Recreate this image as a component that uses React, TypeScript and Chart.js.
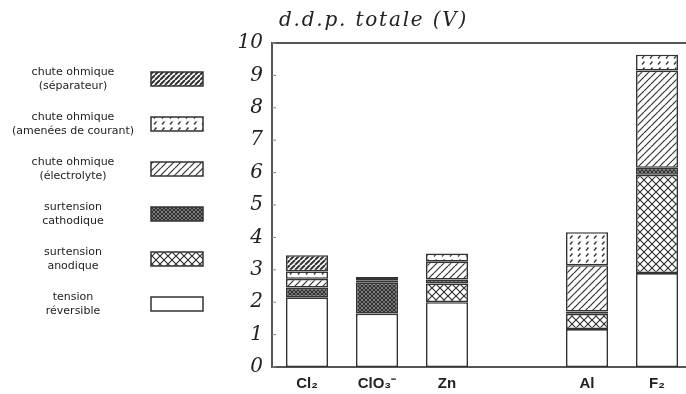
import React, { useEffect, useRef } from "react";
import { Chart, registerables } from "chart.js";
Chart.register(...registerables);

const categories = ["Cl₂", "ClO₃⁻", "Zn", "Al", "F₂"];
const positions = [0, 1, 2, 4, 5];
const reversible = [2.15, 1.65, 2.0, 1.17, 2.9];
const anodique = [null, null, 0.58, 0.47, 3.03];
const cathodique = [0.3, 0.95, 0.12, 0.07, 0.22];
const electrolyte = [0.27, null, 0.55, 1.43, 3.0];
const amenees = [0.23, 0.08, 0.25, 1.02, 0.49];
const separateur = [0.5, 0.1, null, null, null];
const yTicks = [0, 1, 2, 3, 4, 5, 6, 7, 8, 9, 10];
const titleText = "d.d.p. totale (V)";
const legendLines = [
  ["chute ohmique", "(séparateur)"],
  ["chute ohmique", "(amenées de courant)"],
  ["chute ohmique", "(électrolyte)"],
  ["surtension", "cathodique"],
  ["surtension", "anodique"],
  ["tension", "réversible"],
];

const INK = "#333333";

function makePattern(w: number, h: number, draw: (c: CanvasRenderingContext2D) => void) {
  const cv = document.createElement("canvas");
  cv.width = w;
  cv.height = h;
  const c = cv.getContext("2d")!;
  c.fillStyle = "#ffffff";
  c.fillRect(0, 0, w, h);
  c.strokeStyle = INK;
  draw(c);
  return c.createPattern(cv, "repeat")!;
}

function diag(c: CanvasRenderingContext2D, s: number, lw: number, back = false) {
  c.lineWidth = lw;
  c.beginPath();
  for (const k of [-s, 0, s]) {
    if (!back) {
      c.moveTo(k, s);
      c.lineTo(k + s, 0);
    } else {
      c.moveTo(k, 0);
      c.lineTo(k + s, s);
    }
  }
  c.stroke();
}

export default function App() {
  const ref = useRef<HTMLCanvasElement | null>(null);
  useEffect(() => {
    const canvas = ref.current!;
    const pSep = makePattern(5, 5, (c) => diag(c, 5, 2.0));
    const pAmen = makePattern(8, 6, (c) => {
      c.lineWidth = 1.3;
      c.beginPath();
      c.moveTo(2, 4.5);
      c.lineTo(4.5, 1.5);
      c.stroke();
    });
    const pElec = makePattern(7, 7, (c) => diag(c, 7, 1.2));
    const pCath = makePattern(4, 4, (c) => {
      diag(c, 4, 1.6);
      diag(c, 4, 1.6, true);
    });
    const pAnod = makePattern(8, 8, (c) => {
      diag(c, 8, 1.2);
      diag(c, 8, 1.2, true);
    });
    const series = [
      { data: reversible, fill: "#ffffff" as any },
      { data: anodique, fill: pAnod },
      { data: cathodique, fill: pCath },
      { data: electrolyte, fill: pElec },
      { data: amenees, fill: pAmen },
      { data: separateur, fill: pSep },
    ];
    const legendFills = [pSep, pAmen, pElec, pCath, pAnod, "#ffffff"];

    const decor = {
      id: "decor",
      afterDraw(chart: any) {
        const ctx = chart.ctx as CanvasRenderingContext2D;
        const area = chart.chartArea;
        const yScale = chart.scales.y;
        ctx.save();
        ctx.strokeStyle = "#555";
        ctx.lineWidth = 2;
        ctx.beginPath();
        ctx.moveTo(area.left - 1, area.top);
        ctx.lineTo(chart.width, area.top);
        ctx.stroke();
        ctx.lineWidth = 1;
        ctx.strokeStyle = "#888";
        for (const v of yTicks) {
          const y = yScale.getPixelForValue(v);
          ctx.beginPath();
          ctx.moveTo(area.left, y);
          ctx.lineTo(area.left + 4, y);
          ctx.stroke();
        }
        ctx.fillStyle = "#222";
        ctx.font = "italic 20px 'DejaVu Serif'";
        (ctx as any).letterSpacing = "1.8px";
        ctx.textAlign = "left";
        ctx.textBaseline = "middle";
        ctx.fillText(titleText, area.left + 7, 21);
        (ctx as any).letterSpacing = "0px";
        ctx.font = "11px 'DejaVu Sans'";
        ctx.textAlign = "center";
        ctx.fillStyle = "#222";
        legendLines.forEach((lines, i) => {
          const cy = 79 + i * 45;
          ctx.fillText(lines[0], 73, cy - 7);
          ctx.fillText(lines[1], 73, cy + 7.5);
          ctx.fillStyle = legendFills[i] as any;
          ctx.fillRect(151, cy - 7, 52, 14);
          ctx.strokeStyle = INK;
          ctx.lineWidth = 1.5;
          ctx.strokeRect(151, cy - 7, 52, 14);
          ctx.fillStyle = "#222";
        });
        ctx.restore();
      },
    };

    const chart = new Chart(canvas, {
      type: "bar",
      data: {
        datasets: series.map((s, i) => ({
          label: legendLines[5 - i].join(" "),
          data: positions.map((x, j) => ({ x, y: s.data[j] })) as any,
          backgroundColor: s.fill as any,
          borderColor: INK,
          borderWidth: 1.6,
          borderSkipped: false,
          barPercentage: 0.6,
          categoryPercentage: 1,
        })),
      },
      options: {
        animation: false,
        responsive: false,
        maintainAspectRatio: false,
        layout: { padding: { left: 232, top: 43, right: 0, bottom: 0 } },
        plugins: { legend: { display: false }, tooltip: { enabled: false } },
        scales: {
          x: {
            type: "linear",
            min: -0.5,
            max: 5.414,
            stacked: true,
            offset: false,
            grid: { display: false, drawTicks: false },
            border: { display: true, color: "#555", width: 2 },
            afterBuildTicks: (s: any) => {
              s.ticks = positions.map((v) => ({ value: v }));
            },
            afterFit: (s: any) => {
              s.height = 27;
            },
            ticks: {
              callback: (v: any) => {
                const k = positions.indexOf(Number(v));
                return k >= 0 ? categories[k] : "";
              },
              font: { family: "'Liberation Sans'", size: 15, weight: "bold" },
              color: "#222",
              padding: 8,
              maxRotation: 0,
              autoSkip: false,
            },
          },
          y: {
            stacked: true,
            min: 0,
            max: 10,
            afterFit: (s: any) => {
              s.width = 40;
            },
            ticks: {
              stepSize: 1,
              font: { family: "'DejaVu Serif'", style: "italic", size: 20 },
              color: "#222",
              padding: 9,
            },
            grid: { display: false, drawTicks: false },
            border: { display: true, color: "#555", width: 2 },
          },
        },
      } as any,
      plugins: [decor],
    });
    return () => chart.destroy();
  }, []);
  return (
    <div style={{ position: "absolute", left: 0, top: 0, width: 686, height: 394, background: "#fff" }}>
      <canvas ref={ref} width={686} height={394} style={{ width: 686, height: 394, display: "block" }} />
    </div>
  );
}
